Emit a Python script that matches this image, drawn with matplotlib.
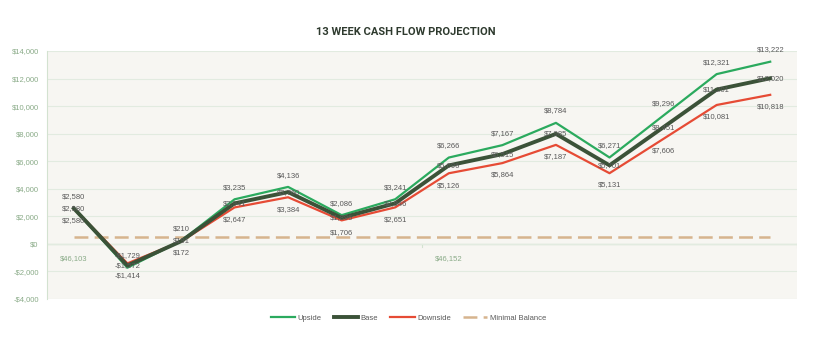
import matplotlib
matplotlib.use("Agg")
import matplotlib.pyplot as plt
from matplotlib.ticker import FuncFormatter

weeks = list(range(14))
date_labels = {0: "$46,103", 7: "$46,152"}
upside = [2580, -1729, 210, 3235, 4136, 2086, 3241, 6266, 7167, 8784, 6271, 9296, 12321, 13222]
base = [2580, -1572, 191, 2941, 3760, 1896, 2946, 5696, 6515, 7985, 5701, 8451, 11201, 12020]
downside = [2580, -1414, 172, 2647, 3384, 1706, 2651, 5126, 5864, 7187, 5131, 7606, 10081, 10818]
min_balance = [500] * 14

plt.rcParams["font.family"] = ["Liberation Sans", "DejaVu Sans"]
plt.rcParams["lines.scale_dashes"] = False

c_up = "#2BAA5E"
c_base = "#3B5238"
c_down = "#E64B35"
c_min = "#D6B48E"
c_label = "#595959"
c_tick = "#8AAB88"
c_grid = "#E2EBE0"
c_axis = "#D3E2D0"

fig = plt.figure(figsize=(8.37, 3.42), dpi=100)
ax = fig.add_axes([0.0562, 0.1257, 0.896, 0.7252])
ax.set_facecolor("#F7F6F2")

ax.plot(weeks, upside, color=c_up, lw=1.6, label="Upside", zorder=3)
ax.plot(weeks, base, color=c_base, lw=2.8, label="Base", zorder=4)
ax.plot(weeks, downside, color=c_down, lw=1.6, label="Downside", zorder=3)
ax.plot(weeks, min_balance, color=c_min, lw=1.8, dashes=(10, 4.5), label="Minimal Balance", zorder=2)

def money(v):
    return f"-${abs(v):,.0f}" if v < 0 else f"${v:,.0f}"

for x, u, b, d in zip(weeks, upside, base, downside):
    ax.annotate(money(u), (x, u), xytext=(0, 6), textcoords="offset points",
                ha="center", va="bottom", fontsize=5.5, color=c_label, zorder=5)
    ax.annotate(money(b), (x, b), ha="center", va="center", fontsize=5.5, color=c_label, zorder=5)
    ax.annotate(money(d), (x, d), xytext=(0, -6), textcoords="offset points",
                ha="center", va="top", fontsize=5.5, color=c_label, zorder=5)

ax.set_xlim(-0.5, 13.5)
ax.set_ylim(-4000, 14000)
ax.set_yticks(range(-4000, 14001, 2000))
ax.yaxis.set_major_formatter(FuncFormatter(lambda v, p: money(v)))
ax.grid(axis="y", color=c_grid, lw=0.8, zorder=0)
ax.tick_params(axis="y", length=0, labelsize=5.5, labelcolor=c_tick, pad=6)

# date axis crosses at zero
for s in ["top", "right", "bottom"]:
    ax.spines[s].set_visible(False)
ax.spines["left"].set_color(c_axis)
ax.set_xticks([])
ax.axhline(0, color=c_axis, lw=1, zorder=1)
for xt in [6.5, 13.5]:
    ax.plot([xt, xt], [0, -200], color=c_axis, lw=0.8, zorder=1)
for x, t in date_labels.items():
    ax.annotate(t, (x, 0), xytext=(0, -8), textcoords="offset points", ha="center", va="top",
                fontsize=5.5, color=c_tick)

fig.text(0.485, 0.905, "13 WEEK CASH FLOW PROJECTION", ha="center", va="center",
         fontsize=8, fontweight="bold", color="#2E3A2E", family=["Roboto", "DejaVu Sans"])

fig.legend(loc="center", bbox_to_anchor=(0.488, 0.07), ncol=4, frameon=False,
           fontsize=5.5, labelcolor=c_label, handlelength=3.2, handletextpad=0.3,
           columnspacing=1.6)

fig.savefig("out.png", dpi=100, facecolor="white")
